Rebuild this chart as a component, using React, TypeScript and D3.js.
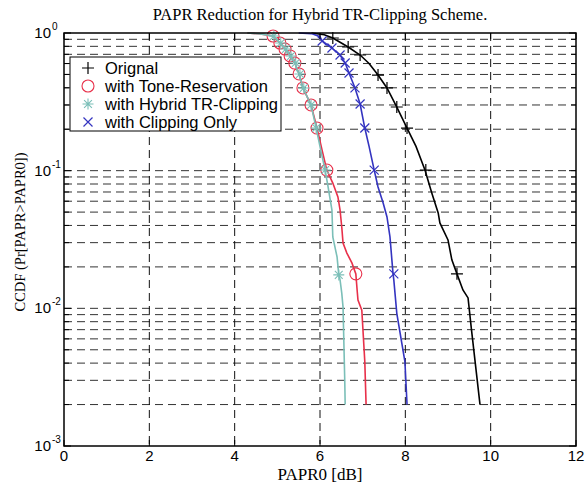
import React from 'react';
import * as d3 from 'd3';

const xTicks = [0, 2, 4, 6, 8, 10, 12];
const yMajor = [1, 0.1, 0.01, 0.001];
const yMajorExp = ['0', '-1', '-2', '-3'];
const yMinor = [
  0.002, 0.003, 0.004, 0.005, 0.006, 0.007, 0.008, 0.009,
  0.02, 0.03, 0.04, 0.05, 0.06, 0.07, 0.08, 0.09,
  0.2, 0.3, 0.4, 0.5, 0.6, 0.7, 0.8, 0.9,
];

const original: [number, number][] = [
  [5.8, 1.0], [6.1, 0.97], [6.3, 0.92], [6.66, 0.791], [6.94, 0.692], [7.15, 0.6], [7.36, 0.495],
  [7.57, 0.399], [7.8, 0.29], [8.04, 0.204], [8.25, 0.15], [8.46, 0.101], [8.62, 0.0689],
  [8.77, 0.0493], [8.81, 0.0417], [9.0, 0.0314], [9.09, 0.0225], [9.21, 0.0178], [9.35, 0.0136],
  [9.47, 0.0119], [9.55, 0.007], [9.75, 0.002],
];
const originalMarks: [number, number][] = [
  [6.3, 0.92], [6.66, 0.791], [6.94, 0.692], [7.36, 0.495], [7.57, 0.399], [7.8, 0.29],
  [8.04, 0.204], [8.48, 0.101], [9.21, 0.0178],
];

const toneRes: [number, number][] = [
  [4.3, 1.0], [4.6, 0.985], [4.9, 0.951], [5.06, 0.846], [5.18, 0.765], [5.3, 0.681], [5.41, 0.605],
  [5.51, 0.504], [5.6, 0.399], [5.79, 0.3], [5.93, 0.204], [6.05, 0.14], [6.16, 0.101], [6.3, 0.0813],
  [6.42, 0.0644], [6.47, 0.0518], [6.51, 0.039], [6.54, 0.0298], [6.63, 0.0252], [6.75, 0.0213],
  [6.84, 0.0178], [6.87, 0.0136], [6.89, 0.0115], [6.98, 0.0097], [7.05, 0.0041], [7.08, 0.002],
];
const toneResMarks: [number, number][] = [
  [4.9, 0.951], [5.06, 0.846], [5.18, 0.765], [5.3, 0.681], [5.41, 0.605], [5.51, 0.504],
  [5.6, 0.399], [5.79, 0.3], [5.93, 0.204], [6.16, 0.101], [6.84, 0.0178],
];

const hybrid: [number, number][] = [
  [4.3, 1.0], [4.6, 0.985], [4.9, 0.951], [5.06, 0.846], [5.18, 0.765], [5.3, 0.681], [5.41, 0.605],
  [5.51, 0.504], [5.6, 0.399], [5.79, 0.3], [5.91, 0.204], [6.02, 0.14], [6.12, 0.101], [6.19, 0.0761],
  [6.28, 0.0518], [6.3, 0.033], [6.4, 0.0236], [6.44, 0.0175], [6.47, 0.0161], [6.51, 0.0129],
  [6.54, 0.0102], [6.58, 0.003], [6.59, 0.002],
];
const hybridMarks: [number, number][] = [
  [4.92, 0.951], [5.08, 0.846], [5.2, 0.765], [5.32, 0.681], [5.43, 0.605], [5.53, 0.504],
  [5.62, 0.399], [5.79, 0.3], [5.91, 0.204], [6.12, 0.101], [6.44, 0.0175],
];

const clipOnly: [number, number][] = [
  [5.5, 1.0], [5.8, 0.99], [6.0, 0.94], [6.05, 0.875], [6.28, 0.778], [6.47, 0.692], [6.59, 0.605],
  [6.68, 0.512], [6.82, 0.399], [6.94, 0.305], [7.05, 0.204], [7.15, 0.15], [7.27, 0.101],
  [7.36, 0.0761], [7.48, 0.0582], [7.57, 0.0461], [7.64, 0.033], [7.71, 0.0181], [7.73, 0.0161],
  [7.8, 0.0092], [7.99, 0.0041], [8.04, 0.002],
];
const clipOnlyMarks: [number, number][] = [
  [6.05, 0.875], [6.28, 0.778], [6.47, 0.692], [6.59, 0.605], [6.68, 0.512], [6.82, 0.399],
  [6.94, 0.305], [7.05, 0.204], [7.27, 0.101], [7.73, 0.0178],
];

const legendLabels = ['Orignal', 'with Tone-Reservation', 'with Hybrid TR-Clipping', 'with Clipping Only'];
const titleText = 'PAPR Reduction for Hybrid TR-Clipping Scheme.';
const xLabelText = 'PAPR0 [dB]';
const yLabelText = 'CCDF (Pr[PAPR>PAPR0])';

const W = 587, H = 484;
const L = 64, R = 576, T = 33, B = 446;

const C_BLACK = '#000000';
const C_RED = '#e8304a';
const C_TEAL = '#7bbfb8';
const C_BLUE = '#3434c0';

type MarkType = 'plus' | 'circle' | 'star' | 'x';

function Marker({ type, x, y, color }: { type: MarkType; x: number; y: number; color: string }) {
  const s = 6;
  if (type === 'plus') {
    return <path d={`M${x - s},${y}H${x + s}M${x},${y - s}V${y + s}`} stroke={color} strokeWidth={1.2} fill="none" />;
  }
  if (type === 'circle') {
    return <circle cx={x} cy={y} r={6} stroke={color} strokeWidth={1.1} fill="none" />;
  }
  if (type === 'x') {
    const a = 4.5;
    return <path d={`M${x - a},${y - a}L${x + a},${y + a}M${x - a},${y + a}L${x + a},${y - a}`} stroke={color} strokeWidth={1.2} fill="none" />;
  }
  const a = 5.5, b = 3.9;
  return (
    <path
      d={`M${x - a},${y}H${x + a}M${x},${y - a}V${y + a}M${x - b},${y - b}L${x + b},${y + b}M${x - b},${y + b}L${x + b},${y - b}`}
      stroke={color} strokeWidth={1.1} fill="none"
    />
  );
}

export default function App() {
  const x = d3.scaleLinear().domain([0, 12]).range([L, R]);
  const y = d3.scaleLog().domain([0.001, 1]).range([B, T]);
  const line = d3.line<[number, number]>().x(d => x(d[0])).y(d => y(d[1]));

  const series = [
    { data: original, marks: originalMarks, color: C_BLACK, type: 'plus' as MarkType },
    { data: toneRes, marks: toneResMarks, color: C_RED, type: 'circle' as MarkType },
    { data: clipOnly, marks: clipOnlyMarks, color: C_BLUE, type: 'x' as MarkType },
    { data: hybrid, marks: hybridMarks, color: C_TEAL, type: 'star' as MarkType },
  ];
  const legendSeries = [series[0], series[1], series[3], series[2]];

  const hGrid = [...yMinor, 0.1, 0.01];
  const vGrid = xTicks.filter(t => t > 0 && t < 12);

  const lgX = 70, lgY = 57, lgW = 211, lgH = 74;
  const sans = "'Liberation Sans', Arial, sans-serif";
  const serif = "'Liberation Serif', 'Times New Roman', serif";

  return (
    <svg width={W} height={H} style={{ position: 'absolute', left: 0, top: 0, background: '#fff' }}>
      <rect x={0} y={0} width={W} height={H} fill="#fff" />
      <rect x={L} y={T} width={R - L} height={B - T} fill="#fff" />
      {/* grid */}
      <g stroke="#333" strokeWidth={1} strokeDasharray="8,5" fill="none">
        {hGrid.map((v, i) => (
          <line key={'h' + i} x1={L} x2={R} y1={y(v)} y2={y(v)} />
        ))}
        {vGrid.map((v, i) => (
          <line key={'v' + i} x1={x(v)} x2={x(v)} y1={T} y2={B} stroke="#111" />
        ))}
      </g>
      {/* curves */}
      {series.map((s, i) => (
        <g key={'s' + i}>
          <path d={line(s.data) || ''} stroke={s.color} strokeWidth={1.6} fill="none" />
          {s.marks.map((m, j) => (
            <Marker key={j} type={s.type} x={x(m[0])} y={y(m[1])} color={s.color} />
          ))}
        </g>
      ))}
      {/* axes box */}
      <rect x={L} y={T} width={R - L} height={B - T} fill="none" stroke="#000" strokeWidth={1.5} />
      {/* ticks */}
      <g stroke="#000" strokeWidth={1}>
        {xTicks.map((t, i) => (
          <g key={'xt' + i}>
            <line x1={x(t)} x2={x(t)} y1={B} y2={B - 6} />
            <line x1={x(t)} x2={x(t)} y1={T} y2={T + 6} />
          </g>
        ))}
        {yMajor.map((t, i) => (
          <g key={'ymt' + i}>
            <line x1={L} x2={L + 7} y1={y(t)} y2={y(t)} />
            <line x1={R} x2={R - 7} y1={y(t)} y2={y(t)} />
          </g>
        ))}
        {yMinor.map((t, i) => (
          <g key={'ynt' + i}>
            <line x1={L} x2={L + 5} y1={y(t)} y2={y(t)} />
            <line x1={R} x2={R - 5} y1={y(t)} y2={y(t)} />
          </g>
        ))}
      </g>
      {/* tick labels */}
      <g fontFamily={sans} fill="#000">
        {xTicks.map((t, i) => (
          <text key={'xl' + i} x={x(t)} y={B + 15} fontSize={15} textAnchor="middle">{t}</text>
        ))}
        {yMajor.map((t, i) => (
          <g key={'yl' + i}>
            <text x={L - 13} y={y(t) + 5} fontSize={15} textAnchor="end">10</text>
            <text x={L - 12} y={y(t) - 3} fontSize={10} textAnchor="start">{yMajorExp[i]}</text>
          </g>
        ))}
      </g>
      {/* title and labels */}
      <text x={(L + R) / 2} y={20} fontFamily={serif} fontSize={16.5} textAnchor="middle">{titleText}</text>
      <text x={(L + R) / 2} y={480} fontFamily={serif} fontSize={17} textAnchor="middle">{xLabelText}</text>
      <text
        transform={`translate(25,232) rotate(-90)`}
        fontFamily={serif} fontSize={14.5} textAnchor="middle"
      >{yLabelText}</text>
      {/* legend */}
      <rect x={lgX} y={lgY} width={lgW} height={lgH} fill="#fff" stroke="#000" strokeWidth={1} />
      {legendSeries.map((s, i) => {
        const cy = lgY + 11 + i * 18;
        return (
          <g key={'lg' + i}>
            <Marker type={s.type} x={lgX + 18} y={cy} color={s.color} />
            <text x={lgX + 35} y={cy + 5.5} fontFamily={sans} fontSize={16.5}>{legendLabels[i]}</text>
          </g>
        );
      })}
    </svg>
  );
}
